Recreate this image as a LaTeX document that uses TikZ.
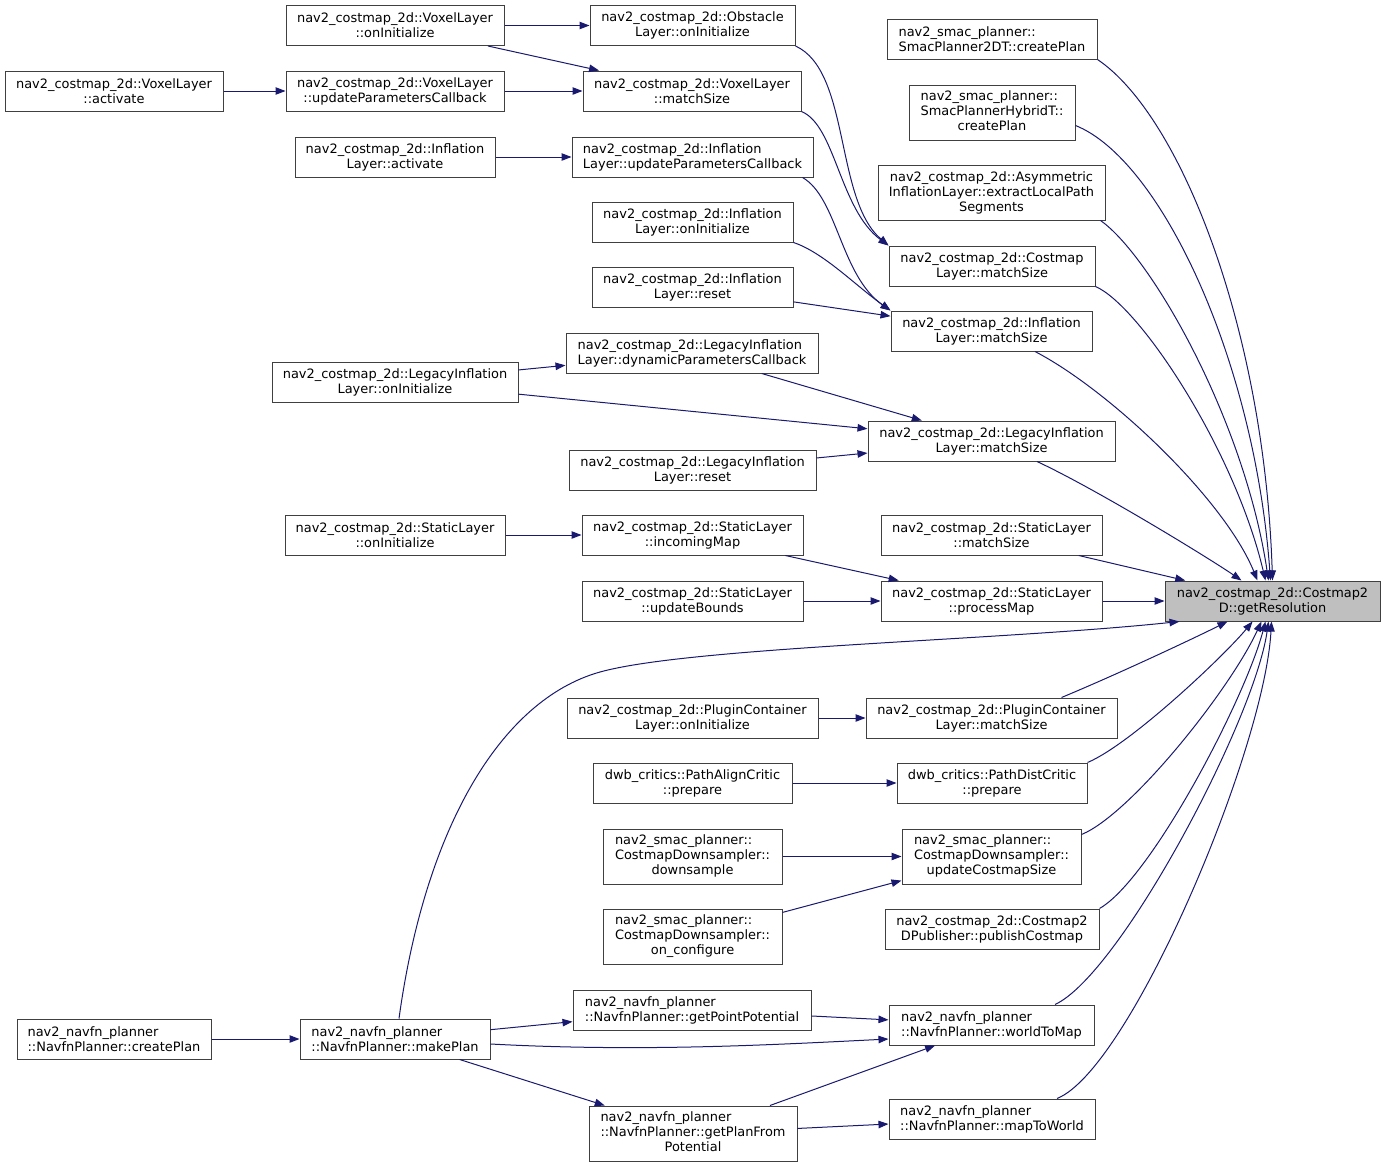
\documentclass[tikz,border=0pt]{standalone}
\usepackage{fontspec}
\setmainfont{DejaVu Sans}
\usetikzlibrary{arrows.meta,calc}

\tikzset{
  fn/.style={draw={rgb, 255:red, 64; green, 64; blue, 64 }, line width=0.75pt, fill=white, inner xsep=2pt, inner ysep=1pt, minimum height=30pt, align=center, font=\fontsize{9.7}{11.25}\selectfont},
  fnl/.style={fn, align=left},
  fn3/.style={fn, minimum height=41.25pt},
  call/.style={draw={rgb, 255:red, 25; green, 25; blue, 112 }, line width=0.75pt, -{Triangle[length=7.5pt,width=5.6pt]}}
}
% left lines, last line centred
\newcommand\mixlines[3]{\begin{tabular}{@{}l@{}}#1\\#2\\\multicolumn{1}{@{}c@{}}{#3}\end{tabular}}

\begin{document}
\begin{tikzpicture}[x=0.75pt,y=0.75pt,yscale=-1,xscale=1]
\useasboundingbox (0,0) rectangle (1385,1167);

% Text Node
\node [fn, minimum width=163.5pt] (voxAct) at (114,91) {nav2\_costmap\_2d::VoxelLayer\\::activate};
% Text Node
\node [fn, minimum width=184.5pt] (legOnInit) at (395,382) {nav2\_costmap\_2d::LegacyInflation\\Layer::onInitialize};
% Text Node
\node [fnl, minimum width=145.5pt] (navCreate) at (114,1039) {nav2\_navfn\_planner\\::NavfnPlanner::createPlan};

% Text Node
\node [fn, minimum width=163.5pt] (voxOnInit) at (395,25.5) {nav2\_costmap\_2d::VoxelLayer\\::onInitialize};
% Text Node
\node [fn, minimum width=163.5pt] (voxUpd) at (395,91) {nav2\_costmap\_2d::VoxelLayer\\::updateParametersCallback};
% Text Node
\node [fn, minimum width=150pt] (inflAct) at (395,157) {nav2\_costmap\_2d::Inflation\\Layer::activate};
% Text Node
\node [fn, minimum width=165pt] (statOnInit) at (395,535) {nav2\_costmap\_2d::StaticLayer\\::onInitialize};
% Text Node
\node [fnl, minimum width=142.5pt] (makePlan) at (395,1039) {nav2\_navfn\_planner\\::NavfnPlanner::makePlan};

% Text Node
\node [fn, minimum width=153.75pt] (obsOnInit) at (692.5,25.5) {nav2\_costmap\_2d::Obstacle\\Layer::onInitialize};
% Text Node
\node [fn, minimum width=163.5pt] (voxMatch) at (692,91) {nav2\_costmap\_2d::VoxelLayer\\::matchSize};
% Text Node
\node [fnl, minimum width=180.75pt] (inflUpd) at (692.5,157) {nav2\_costmap\_2d::Inflation\\Layer::updateParametersCallback};
% Text Node
\node [fn, minimum width=150.75pt] (inflOnInit) at (692.5,222) {nav2\_costmap\_2d::Inflation\\Layer::onInitialize};
% Text Node
\node [fn, minimum width=150.75pt] (inflReset) at (692.5,287) {nav2\_costmap\_2d::Inflation\\Layer::reset};
% Text Node
\node [fnl, minimum width=189pt] (legDyn) at (692,353) {nav2\_costmap\_2d::LegacyInflation\\Layer::dynamicParametersCallback};
% Text Node
\node [fn, minimum width=185.25pt] (legReset) at (692.5,470) {nav2\_costmap\_2d::LegacyInflation\\Layer::reset};
% Text Node
\node [fn, minimum width=165.75pt] (statIncoming) at (692.5,535) {nav2\_costmap\_2d::StaticLayer\\::incomingMap};
% Text Node
\node [fn, minimum width=165.75pt] (statUpdB) at (692.5,601) {nav2\_costmap\_2d::StaticLayer\\::updateBounds};
% Text Node
\node [fn, minimum width=188.25pt] (plugOnInit) at (692.5,718) {nav2\_costmap\_2d::PluginContainer\\Layer::onInitialize};
% Text Node
\node [fn, minimum width=149.25pt] (pathAlign) at (692.5,783) {dwb\_critics::PathAlignCritic\\::prepare};
% Text Node
\node [fn3, minimum width=134.25pt] (downsample) at (692.5,856.5) {\mixlines{nav2\_smac\_planner::}{CostmapDownsampler::}{downsample}};
% Text Node
\node [fn3, minimum width=134.25pt] (onConfigure) at (692.5,936.5) {\mixlines{nav2\_smac\_planner::}{CostmapDownsampler::}{on\_configure}};
% Text Node
\node [fnl, minimum width=178.5pt] (getPointPot) at (692,1010) {nav2\_navfn\_planner\\::NavfnPlanner::getPointPotential};
% Text Node
\node [fn3, minimum width=156pt] (getPlanPot) at (693,1133.5) {\mixlines{nav2\_navfn\_planner}{::NavfnPlanner::getPlanFrom}{Potential}};

% Text Node
\node [fnl, minimum width=157.5pt] (smac2D) at (992,39) {nav2\_smac\_planner::\\SmacPlanner2DT::createPlan};
% Text Node
\node [fn3, minimum width=124.5pt] (smacHyb) at (992,112.5) {\mixlines{nav2\_smac\_planner::}{SmacPlannerHybridT::}{createPlan}};
% Text Node
\node [fn3, minimum width=170.25pt] (asym) at (991.5,192.5) {nav2\_costmap\_2d::Asymmetric\\InflationLayer::extractLocalPath\\Segments};
% Text Node
\node [fn, minimum width=154.5pt] (costLayerMatch) at (992,266) {nav2\_costmap\_2d::Costmap\\Layer::matchSize};
% Text Node
\node [fn, minimum width=150.75pt] (inflMatch) at (991.5,331) {nav2\_costmap\_2d::Inflation\\Layer::matchSize};
% Text Node
\node [fn, minimum width=185.25pt] (legMatch) at (991.5,441) {nav2\_costmap\_2d::LegacyInflation\\Layer::matchSize};
% Text Node
\node [fn, minimum width=165.75pt] (statMatch) at (991.5,535) {nav2\_costmap\_2d::StaticLayer\\::matchSize};
% Text Node
\node [fn, minimum width=165.75pt] (procMap) at (991.5,601) {nav2\_costmap\_2d::StaticLayer\\::processMap};
% Text Node
\node [fn, minimum width=188.25pt] (plugMatch) at (991.5,718) {nav2\_costmap\_2d::PluginContainer\\Layer::matchSize};
% Text Node
\node [fn, minimum width=142.5pt] (pathDist) at (992,783) {dwb\_critics::PathDistCritic\\::prepare};
% Text Node
\node [fn3, minimum width=134.25pt] (updCostmap) at (991.5,856.5) {\mixlines{nav2\_smac\_planner::}{CostmapDownsampler::}{updateCostmapSize}};
% Text Node
\node [fn, minimum width=160.5pt] (publish) at (992,929) {nav2\_costmap\_2d::Costmap2\\DPublisher::publishCostmap};
% Text Node
\node [fnl, minimum width=153.75pt] (worldToMap) at (991.5,1025) {nav2\_navfn\_planner\\::NavfnPlanner::worldToMap};
% Text Node
\node [fnl, minimum width=154.5pt] (mapToWorld) at (992,1119) {nav2\_navfn\_planner\\::NavfnPlanner::mapToWorld};

% Text Node
\node [fn, minimum width=161.25pt, fill={rgb, 255:red, 191; green, 191; blue, 191 }] (getRes) at (1272.5,601) {nav2\_costmap\_2d::Costmap2\\D::getResolution};

%Straight Lines
\draw [call] (voxOnInit) -- (obsOnInit);
\draw [call] (voxOnInit) -- (voxMatch);
\draw [call] (voxAct) -- (voxUpd);
\draw [call] (voxUpd) -- (voxMatch);
\draw [call] (inflAct) -- (inflUpd);
\draw [call] (inflReset) -- (inflMatch);
\draw [call] (legOnInit) -- (legDyn);
\draw [call] (legOnInit) -- (legMatch);
\draw [call] (legDyn) -- (legMatch);
\draw [call] (legReset) -- (legMatch);
\draw [call] (statOnInit) -- (statIncoming);
\draw [call] (statIncoming) -- (procMap);
\draw [call] (statUpdB) -- (procMap);
\draw [call] (procMap) -- (getRes);
\draw [call] (statMatch) -- (getRes);
\draw [call] (plugOnInit) -- (plugMatch);
\draw [call] (pathAlign) -- (pathDist);
\draw [call] (downsample) -- (updCostmap);
\draw [call] (onConfigure) -- (updCostmap);
\draw [call] (navCreate) -- (makePlan);
\draw [call] (makePlan) -- (getPointPot);
\draw [call] (makePlan) -- (getPlanPot);
\draw [call] (getPointPot) -- (worldToMap);
\draw [call] (getPlanPot) -- (worldToMap);
\draw [call] (getPlanPot) -- (mapToWorld);

%Curve Lines
\draw [call] (obsOnInit.south east) .. controls +(55,25) and +(-54,-46) .. (costLayerMatch.north west);
\draw [call] (voxMatch.south east) .. controls +(34,14) and +(-49,-36) .. (costLayerMatch.north west);
\draw [call] ($(inflUpd.south east)+(-11,0)$) .. controls +(35,20) and +(-50,-35) .. (inflMatch.north west);
\draw [call] (inflOnInit.south east) .. controls +(30,10) and +(-35,-25) .. (inflMatch.north west);
\draw [call] ($(makePlan.east)+(0,5)$) .. controls +(150,8) and +(-120,6) .. ($(worldToMap.west)+(0,14)$);
\coordinate (mpBend) at (600,672);
\draw [call] ($(makePlan.north)+(4,0)$) .. controls +(26,-189) and +(-100,28) .. (mpBend) .. controls +(90,-25) and +(-180,19) .. ($(getRes.south west)+(15,0)$);

%Curve Lines into getResolution, top side
\draw [call] (smac2D.south east) .. controls +(83,56) and +(-8,-251) .. ($(getRes.north west)+(108,0)$);
\draw [call] ($(smacHyb.east)+(0,13)$) .. controls +(85,34) and +(-16,-221) .. ($(getRes.north west)+(106,0)$);
\draw [call] ($(asym.south east)+(-5,0)$) .. controls +(50,35) and +(-24,-161) .. ($(getRes.north west)+(104,0)$);
\draw [call] (costLayerMatch.south east) .. controls +(44,19) and +(-31,-131) .. ($(getRes.north west)+(101,0)$);
\draw [call] ($(inflMatch.south)+(43.5,0)$) .. controls +(75,39) and +(-33,-81) .. ($(getRes.north west)+(93,0)$);
\draw [call] ($(legMatch.south)+(45.5,0)$) .. controls +(60,28) and +(-32,-22) .. ($(getRes.north west)+(77,0)$);

%Curve Lines into getResolution, bottom side
\draw [call] ($(plugMatch.north)+(70,0)$) .. controls +(60,-25) and +(-30,15) .. ($(getRes.south west)+(63,0)$);
\draw [call] (pathDist.north east) .. controls +(43,-18) and +(-28,34) .. ($(getRes.south west)+(88,0)$);
\draw [call] ($(updCostmap.north east)+(0,6)$) .. controls +(49,-20) and +(-32,69) .. ($(getRes.south west)+(97,0)$);
\draw [call] (publish.north east) .. controls +(51,-29) and +(-21,79) .. ($(getRes.south west)+(101,0)$);
\draw [call] ($(worldToMap.north)+(63.5,0)$) .. controls +(65,-30) and +(-14,99) .. ($(getRes.south west)+(104,0)$);
\draw [call] ($(mapToWorld.north)+(65,0)$) .. controls +(73,-29) and +(-7,129) .. ($(getRes.south west)+(107,0)$);

\end{tikzpicture}
\end{document}
